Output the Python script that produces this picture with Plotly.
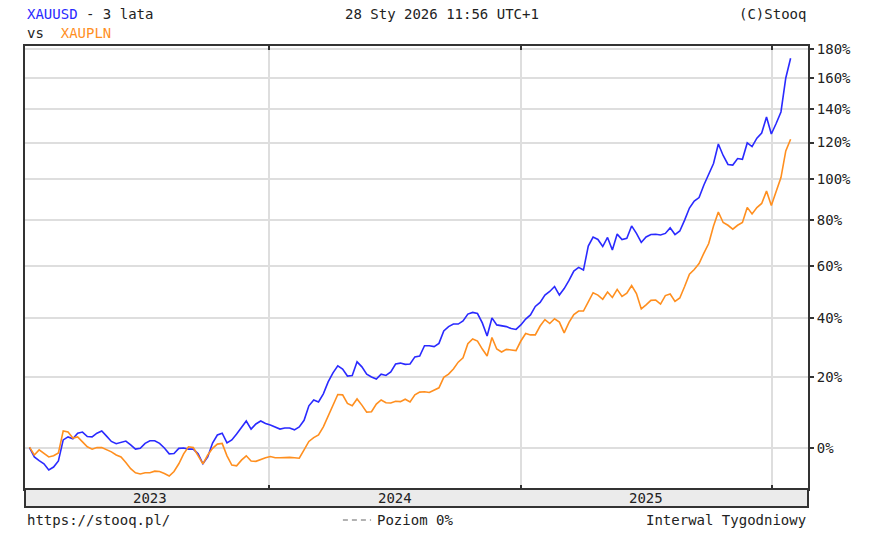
import plotly.graph_objects as go
import pandas as pd

# Weekly % change over 3 years
usd_pct = [0.1, -2.3, -3.2, -4.0, -5.5, -4.8, -3.3, 2.1, 2.9, 2.4,
           3.9, 4.2, 3.0, 2.9, 3.9, 4.5, 3.1, 1.7, 1.1, 1.4,
           1.8, 0.8, -0.3, -0.1, 1.2, 1.9, 1.9, 1.2, 0.0, -1.5,
           -1.4, -0.1, 0.0, -0.3, -0.3, -1.5, -4.0, -2.3, 1.3, 3.4,
           3.9, 1.3, 2.1, 3.7, 5.3, 7.2, 5.0, 6.4, 7.2, 6.5,
           6.1, 5.6, 5.0, 5.3, 5.3, 4.8, 5.6, 7.4, 11.5, 13.2,
           12.6, 15.0, 18.6, 21.4, 23.6, 22.6, 20.4, 20.6, 24.9, 23.3,
           21.0, 20.1, 19.5, 21.0, 20.6, 21.7, 24.2, 24.5, 24.1, 24.2,
           26.5, 26.8, 30.2, 30.2, 29.9, 31.0, 35.3, 36.8, 37.7, 37.7,
           38.8, 41.3, 41.9, 41.5, 38.1, 33.5, 39.9, 37.4, 37.2, 36.8,
           36.1, 35.8, 37.4, 39.5, 41.0, 44.1, 45.6, 48.4, 49.8, 51.7,
           48.4, 50.9, 54.1, 57.9, 59.4, 58.3, 68.4, 72.4, 71.3, 68.2,
           72.2, 66.7, 73.7, 71.3, 71.8, 77.4, 74.0, 70.0, 72.4, 73.5,
           73.6, 73.3, 74.0, 76.5, 73.5, 75.1, 80.1, 85.8, 89.2, 90.9,
           97.2, 102.3, 108.4, 119.2, 112.8, 107.9, 107.6, 111.1, 110.7, 119.8,
           117.7, 122.5, 125.5, 135.0, 124.9, 131.1, 138.1, 159.9, 173.5]

pln_pct = [0.2, -1.8, -0.5, -1.3, -2.3, -2.0, -1.3, 4.5, 4.2, 2.6,
           2.9, 1.6, 0.3, -0.3, 0.1, 0.1, -0.4, -1.0, -1.8, -2.3,
           -3.7, -5.2, -6.2, -6.5, -6.2, -6.2, -5.8, -5.9, -6.4, -7.0,
           -5.9, -4.0, -1.5, 0.3, 0.1, -1.9, -4.0, -1.8, -0.1, 1.0,
           1.2, -2.0, -4.3, -4.5, -3.1, -2.0, -3.3, -3.4, -2.9, -2.5,
           -2.2, -2.5, -2.5, -2.4, -2.4, -2.5, -2.6, -0.5, 1.7, 2.7,
           3.4, 5.6, 8.6, 11.7, 14.8, 14.7, 12.2, 11.5, 13.5, 11.7,
           9.7, 9.8, 12.0, 13.2, 12.4, 12.3, 12.8, 12.7, 13.4, 12.6,
           14.7, 15.5, 15.6, 15.4, 16.1, 16.8, 20.0, 21.0, 22.6, 24.8,
           26.2, 30.9, 32.5, 31.8, 29.1, 26.8, 33.0, 29.1, 28.1, 29.0,
           28.8, 28.6, 31.8, 34.4, 33.9, 33.9, 37.0, 39.3, 37.9, 39.6,
           38.4, 34.6, 38.3, 41.1, 42.4, 42.4, 45.8, 49.3, 48.4, 46.8,
           49.6, 47.5, 50.6, 47.9, 49.1, 52.1, 49.0, 43.2, 44.7, 46.4,
           46.5, 45.0, 48.2, 48.8, 46.0, 47.3, 51.7, 56.6, 58.5, 61.0,
           65.4, 69.5, 77.4, 83.9, 79.0, 77.7, 75.9, 77.7, 79.0, 86.1,
           83.0, 86.0, 88.0, 94.1, 87.0, 93.6, 101.0, 115.3, 121.9]

dates = pd.date_range(end="2026-01-28", periods=len(usd_pct), freq="7D")

tick_pcts = [0, 20, 40, 60, 80, 100, 120, 140, 160, 180]
tick_labels = [f"{p}%" for p in tick_pcts]
year_labels = ["2023", "2024", "2025"]
year_label_dates = ["2023-07-12", "2024-07-02", "2025-07-02"]
year_bounds = ["2024-01-01", "2025-01-01", "2026-01-01"]

FONT = "DejaVu Sans Mono"
FS = 14
BLUE = "#2a2aff"
ORANGE = "#ff8f1f"

def ratio(vals):
    return [1 + v / 100.0 for v in vals]

fig = go.Figure()
fig.add_trace(go.Scatter(x=dates, y=ratio(usd_pct), mode="lines",
                         line=dict(color=BLUE, width=1.6), name="XAUUSD"))
fig.add_trace(go.Scatter(x=dates, y=ratio(pln_pct), mode="lines",
                         line=dict(color=ORANGE, width=1.6), name="XAUPLN"))

yr = [-0.046, 0.4507]
tickvals = ratio(tick_pcts)

fig.update_layout(
    width=885, height=534,
    margin=dict(l=25, r=77, t=46, b=45, autoexpand=False),
    paper_bgcolor="white", plot_bgcolor="white",
    showlegend=False,
    font=dict(family=FONT, size=FS, color="#222"),
    xaxis=dict(
        type="date",
        range=["2023-01-11 11:00", "2026-02-22 07:00"],
        tickvals=year_bounds, showticklabels=False,
        showgrid=True, gridcolor="#dedede", gridwidth=2,
        ticks="inside", ticklen=4, tickcolor="#333", tickwidth=1.5,
        showline=True, linecolor="#333", linewidth=2, mirror="ticks",
        zeroline=False, automargin=False,
    ),
    yaxis=dict(
        type="log", range=yr, side="right",
        tickvals=tickvals, ticktext=tick_labels,
        tickfont=dict(family=FONT, size=FS, color="#222"),
        showgrid=True, gridcolor="#dedede", gridwidth=2,
        ticks="outside", ticklen=4, tickcolor="#333", tickwidth=1.5,
        showline=True, linecolor="#333", linewidth=2, mirror=True,
        zeroline=False, automargin=False,
    ),
    yaxis2=dict(
        type="log", range=yr, side="left", overlaying="y",
        tickvals=tickvals, showticklabels=False,
        ticks="inside", ticklen=4, tickcolor="#333", tickwidth=1.5,
        showgrid=False, showline=False, zeroline=False, automargin=False,
    ),
)

shapes = [
    # white base and dashed zero level line
    dict(type="line", xref="paper", yref="y", x0=0, x1=1, y0=1, y1=1,
         line=dict(color="white", width=2), layer="between"),
    dict(type="line", xref="paper", yref="y", x0=0, x1=1, y0=1, y1=1,
         line=dict(color="#999999", width=1.5, dash="6px,6px"), layer="between"),
    # year band under the plot
    dict(type="rect", xref="paper", yref="paper", x0=0, x1=1, y0=-0.0406, y1=0,
         fillcolor="#ebebeb", line=dict(color="#333", width=2), layer="above"),
    # legend dashes for "Poziom 0%"
    dict(type="line", xref="paper", yref="paper", x0=0.406, x1=0.442, y0=-0.070, y1=-0.070,
         line=dict(color="#999999", width=1.5, dash="5px,4px")),
]
fig.update_layout(shapes=shapes)

ann = []
ann.append(dict(xref="paper", yref="paper", x=0, y=1.0722, xanchor="left", yanchor="middle",
                showarrow=False,
                text=f"<span style='color:{BLUE}'>XAUUSD</span> - 3 lata"))
ann.append(dict(xref="paper", yref="paper", x=0, y=1.0293, xanchor="left", yanchor="middle",
                showarrow=False,
                text=f"vs\u00a0\u00a0<span style='color:{ORANGE}'>XAUPLN</span>"))
ann.append(dict(xref="paper", yref="paper", x=0.5326, y=1.0722, xanchor="center", yanchor="middle",
                showarrow=False, text="28 Sty 2026 11:56 UTC+1"))
ann.append(dict(xref="paper", yref="paper", x=1.0, y=1.0722, xanchor="right", yanchor="middle",
                showarrow=False, text="(C)Stooq"))
ann.append(dict(xref="paper", yref="paper", x=0, y=-0.070, xanchor="left", yanchor="middle",
                showarrow=False, text="https://stooq.pl/"))
ann.append(dict(xref="paper", yref="paper", x=0.447, y=-0.070, xanchor="left", yanchor="middle",
                showarrow=False, text="Poziom 0%"))
ann.append(dict(xref="paper", yref="paper", x=1.0, y=-0.070, xanchor="right", yanchor="middle",
                showarrow=False, text="Interwal Tygodniowy"))
for lbl, d in zip(year_labels, year_label_dates):
    ann.append(dict(xref="x", yref="paper", x=d, y=-0.0203, xanchor="center", yanchor="middle",
                    showarrow=False, text=lbl))
fig.update_layout(annotations=ann)

fig.write_html("out.html",
               config={"displayModeBar": False},
               post_script="document.body.style.margin='0';document.body.style.padding='0';")
